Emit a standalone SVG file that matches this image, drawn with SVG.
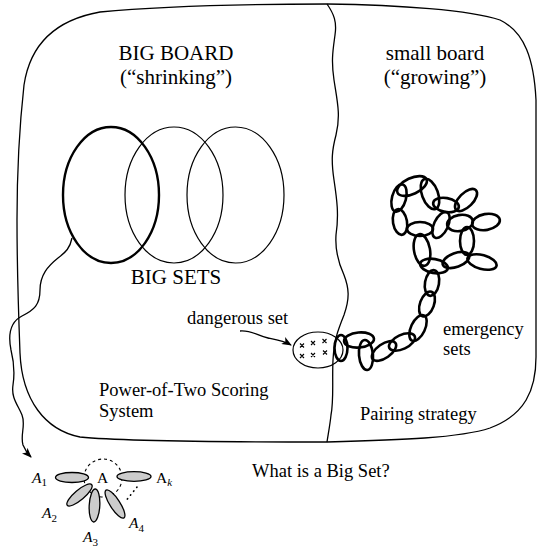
<svg xmlns="http://www.w3.org/2000/svg" width="537" height="548" viewBox="0 0 537 548">
<style>
.ln{fill:none;stroke:#000;stroke-width:1.3}
.big{fill:none;stroke:#000;stroke-width:1.2}
.bigt{fill:none;stroke:#000;stroke-width:2.4}
.ch{fill:none;stroke:#000;stroke-width:2.6}
.sm{fill:#cccccc;stroke:#000;stroke-width:1.3}
.h{font-size:21px}
.n{font-size:18.5px}
.a{font-size:15.5px}
.sub{font-size:11px}
.x{stroke:#000;stroke-width:1.1;fill:none}
</style>
<defs>
<marker id="arr" markerWidth="10" markerHeight="8" refX="9" refY="4" orient="auto" markerUnits="userSpaceOnUse">
<path d="M0,0 L10,4 L0,8 L2.5,4 Z" fill="#000"/>
</marker>
</defs>
<g id="board">
<path class="ln" d="M100,12 C160,6 260,4 327,4 C400,5 470,10 500,20 C525,32 534,60 536,100 L536,357 C536,390 525,415 490,428 C460,438 400,440 327,442 C220,442 120,441 80,437 C45,430 22,400 20,353 C18,300 17,250 17,220 C17,170 19,130 24,85 C30,45 55,20 100,12 Z"/>
<path class="ln" d="M327,4 C334,14 337,22 335,35 C333,50 331,60 334,80 C337,100 341,115 336,135 C332,150 331,160 334,180 C337,200 339,215 336,235 C335,250 338,262 344,275 C349,288 350,298 344,315 C338,330 334,340 333,360 C332,380 334,400 331,415 C330,425 328,435 327,442"/>
</g>
<g id="labels" font-family="Liberation Serif, serif" fill="#000">
<text class="h" x="176" y="60" text-anchor="middle">BIG BOARD</text>
<text class="h" x="176" y="84" text-anchor="middle">(“shrinking”)</text>
<text class="h" x="435" y="60" text-anchor="middle">small board</text>
<text class="h" x="435" y="84" text-anchor="middle">(“growing”)</text>
<text class="h" x="176" y="284" text-anchor="middle">BIG SETS</text>
<text class="n" x="187" y="324">dangerous set</text>
<text class="n" x="443" y="335">emergency</text>
<text class="n" x="443" y="355">sets</text>
<text class="n" x="99" y="396">Power-of-Two Scoring</text>
<text class="n" x="99" y="417">System</text>
<text class="n" x="360" y="420">Pairing strategy</text>
<text class="n" x="252" y="477">What is a Big Set?</text>
</g>
<g id="big-sets">
<ellipse class="big" cx="174" cy="195" rx="49" ry="68"/>
<ellipse class="big" cx="235.5" cy="195" rx="48.5" ry="68"/>
<ellipse class="bigt" cx="111" cy="195" rx="48" ry="68"/>
</g>
<g id="dangerous-set">
<ellipse class="big" cx="318" cy="350" rx="25" ry="18"/>
<path class="x" d="M300,343.5l4,4m0,-4l-4,4 M311,341l4,4m0,-4l-4,4 M322.5,339l4,4m0,-4l-4,4 M300,354l4,4m0,-4l-4,4 M311,353l4,4m0,-4l-4,4 M323,350.5l4,4m0,-4l-4,4"/>
</g>
<g id="emergency-sets">
<ellipse class="ch" cx="341" cy="348" rx="6.5" ry="13"/>
<ellipse class="ch" cx="359" cy="340" rx="15" ry="7.5" transform="rotate(-5 359 340)"/>
<ellipse class="ch" cx="366" cy="355" rx="7" ry="15" transform="rotate(-5 366 355)"/>
<ellipse class="ch" cx="384" cy="351" rx="14" ry="7" transform="rotate(-35 384 351)"/>
<ellipse class="ch" cx="402" cy="342" rx="14" ry="7" transform="rotate(-25 402 342)"/>
<ellipse class="ch" cx="418" cy="328" rx="7" ry="14" transform="rotate(25 418 328)"/>
<ellipse class="ch" cx="427" cy="304" rx="7" ry="13" transform="rotate(20 427 304)"/>
<ellipse class="ch" cx="432" cy="283" rx="7" ry="13" transform="rotate(10 432 283)"/>
<ellipse class="ch" cx="434" cy="266" rx="14" ry="7" transform="rotate(10 434 266)"/>
<ellipse class="ch" cx="422" cy="250" rx="8" ry="16" transform="rotate(-10 422 250)"/>
<ellipse class="ch" cx="420" cy="229" rx="13" ry="7"/>
<ellipse class="ch" cx="400" cy="222" rx="7" ry="13" transform="rotate(-10 400 222)"/>
<ellipse class="ch" cx="399" cy="198" rx="7" ry="14" transform="rotate(15 399 198)"/>
<ellipse class="ch" cx="412" cy="186" rx="16" ry="8" transform="rotate(-25 412 186)"/>
<ellipse class="ch" cx="430" cy="194" rx="8" ry="16" transform="rotate(-20 430 194)"/>
<ellipse class="ch" cx="446" cy="205" rx="13" ry="7" transform="rotate(10 446 205)"/>
<ellipse class="ch" cx="466" cy="200" rx="14" ry="7" transform="rotate(-45 466 200)"/>
<ellipse class="ch" cx="441" cy="225" rx="7" ry="14" transform="rotate(25 441 225)"/>
<ellipse class="ch" cx="460" cy="223" rx="13" ry="8" transform="rotate(-10 460 223)"/>
<ellipse class="ch" cx="486" cy="222" rx="14" ry="8" transform="rotate(-10 486 222)"/>
<ellipse class="ch" cx="467" cy="241" rx="7" ry="14"/>
<ellipse class="ch" cx="456" cy="260" rx="14" ry="7" transform="rotate(-20 456 260)"/>
<ellipse class="ch" cx="482" cy="262" rx="15" ry="7" transform="rotate(15 482 262)"/>
</g>
<g id="big-set-detail">
<circle cx="103" cy="478" r="19" fill="none" stroke="#000" stroke-width="1.1" stroke-dasharray="3,3"/>
<path d="M137,487 L125,502" fill="none" stroke="#000" stroke-width="1.6" stroke-dasharray="0.5,4.5" stroke-linecap="round"/>
<ellipse class="sm" cx="72" cy="477.5" rx="16.5" ry="5"/>
<ellipse class="sm" cx="134" cy="476.5" rx="17" ry="4.8"/>
<ellipse class="sm" cx="79.5" cy="495" rx="16" ry="5" transform="rotate(-40 79.5 495)"/>
<ellipse class="sm" cx="94.5" cy="505.5" rx="5.3" ry="16.5" transform="rotate(3 94.5 505.5)"/>
<ellipse class="sm" cx="115" cy="504" rx="16.5" ry="5" transform="rotate(57 115 504)"/>
<g font-family="Liberation Serif, serif" fill="#000">
<text class="a" x="32" y="483" font-style="italic">A<tspan class="sub" font-style="normal" dy="3">1</tspan></text>
<text class="a" x="97" y="483">A</text>
<text class="a" x="156" y="483">A<tspan class="sub" font-style="italic" dy="3">k</tspan></text>
<text class="a" x="42" y="518" font-style="italic">A<tspan class="sub" font-style="normal" dy="4">2</tspan></text>
<text class="a" x="83" y="542" font-style="italic">A<tspan class="sub" font-style="normal" dy="4">3</tspan></text>
<text class="a" x="129" y="528" font-style="italic">A<tspan class="sub" font-style="normal" dy="4">4</tspan></text>
</g>
</g>
<g id="connectors">
<path class="ln" marker-end="url(#arr)" d="M72,238 C70,248 66,252 58,258 C48,266 40,275 40,290 C40,305 34,310 22,316 C10,322 8,335 11,350 C14,362 15,372 13,385 C11,398 18,405 22,415 C26,425 20,435 23,445 C25,450 28,454 31,457"/>
<path class="ln" marker-end="url(#arr)" d="M240,331 C252,330 258,336 268,338 C278,340 284,341 291,345"/>
</g>
</svg>
